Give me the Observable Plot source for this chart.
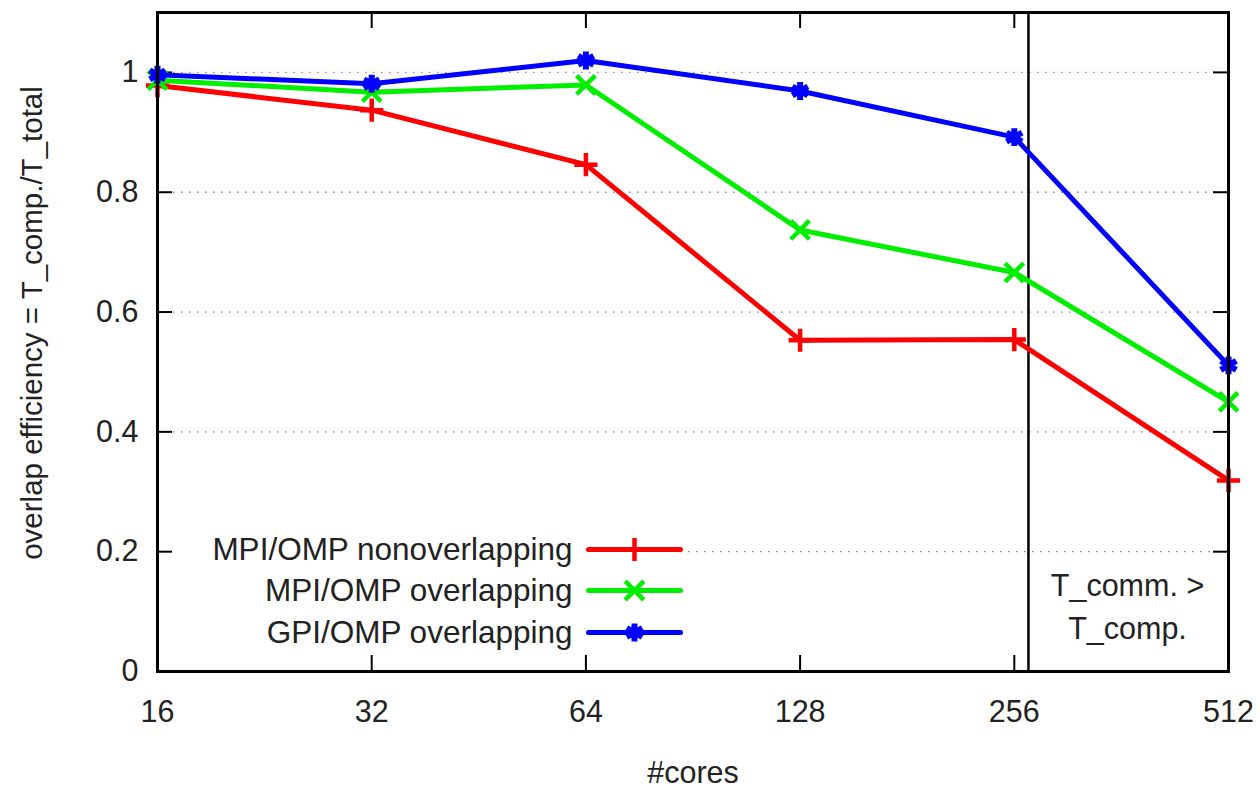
<!DOCTYPE html>
<html>
<head>
<meta charset="utf-8">
<script src="https://cdn.jsdelivr.net/npm/d3@7"></script>
<script src="https://cdn.jsdelivr.net/npm/@observablehq/plot@0.6"></script>
<style>
  html, body { margin: 0; padding: 0; background: #fff; }
</style>
</head>
<body>
<div id="chart"></div>
<script>
// ---- data ----
const cores = [16, 32, 64, 128, 256, 512];
const seriesNames = ["MPI/OMP nonoverlapping", "MPI/OMP overlapping", "GPI/OMP overlapping"];
const mpiNonOverlapping = [0.978, 0.937, 0.846, 0.553, 0.554, 0.319];
const mpiOverlapping    = [0.987, 0.967, 0.979, 0.737, 0.666, 0.450];
const gpiOverlapping    = [0.996, 0.981, 1.020, 0.969, 0.892, 0.511];
const seriesColors = ["#ff0000", "#00ee00", "#0000ff"];
const seriesSymbols = ["plus", "times", "asterisk"];
const xTicks = [16, 32, 64, 128, 256, 512];
const yTicks = [0, 0.2, 0.4, 0.6, 0.8, 1];
const gridValues = [0.4, 0.6, 0.8, 1];
const legendGridValues = [0.2];
const thresholdCores = [268];
const annotation = ["T_comm. >\nT_comp."];
const xLabel = "#cores";
const yLabel = "overlap efficiency = T_comp./T_total";

const seriesValues = [mpiNonOverlapping, mpiOverlapping, gpiOverlapping];
const rows = [];
seriesNames.forEach((s, k) => cores.forEach((c, i) => rows.push({series: s, cores: c, eff: seriesValues[k][i]})));

const W = 1260, H = 788;
const mL = 157, mR = 32, mT = 12, mB = 117;
const fw = W - mL - mR, fh = H - mT - mB;
const font = "Liberation Sans, Arial, Helvetica, sans-serif";
const symR = [7.5, 8.5, 8.5];
const symW = [4.5, 4.5, 6];

const marks = [];
// grid
marks.push(Plot.ruleY(gridValues, {stroke: "#888", strokeWidth: 1.3, strokeDasharray: "1.5,6.5"}));
marks.push(Plot.ruleY(legendGridValues, {stroke: "#888", strokeWidth: 1.3, strokeDasharray: "1.5,6.5", insetLeft: 523}));
// inward ticks
marks.push(Plot.tickY(yTicks, {y: d => d, insetRight: fw - 15, stroke: "#000", strokeWidth: 2}));
marks.push(Plot.tickY(yTicks, {y: d => d, insetLeft: fw - 15, stroke: "#000", strokeWidth: 2}));
marks.push(Plot.tickX(xTicks, {x: d => d, insetTop: fh - 16, stroke: "#000", strokeWidth: 2}));
marks.push(Plot.tickX(xTicks, {x: d => d, insetBottom: fh - 16, stroke: "#000", strokeWidth: 2}));
// threshold line
marks.push(Plot.ruleX(thresholdCores, {stroke: "#000", strokeWidth: 2.5}));
// series
seriesNames.forEach((s, k) => {
  const d = rows.filter(r => r.series === s);
  marks.push(Plot.line(d, {x: "cores", y: "eff", stroke: seriesColors[k], strokeWidth: 5}));
  marks.push(Plot.dot(d, {x: "cores", y: "eff", symbol: () => seriesSymbols[k], stroke: seriesColors[k],
    strokeWidth: symW[k], r: symR[k]}));
});
// legend
const legendDy = [-122, -81, -39];
seriesNames.forEach((s, k) => {
  marks.push(Plot.text([s], {frameAnchor: "bottom-left", dx: 415, dy: legendDy[k], text: d => d,
    textAnchor: "end", lineAnchor: "middle", fontSize: 31.5, fill: "#222", fontFamily: font}));
  marks.push(Plot.vector([s], {frameAnchor: "bottom-left", dx: 431, dy: legendDy[k], length: 92, rotate: 90,
    anchor: "start", stroke: seriesColors[k], strokeWidth: 5,
    shape: {draw(ctx, l) { ctx.moveTo(0, 0); ctx.lineTo(0, -l); }}}));
  marks.push(Plot.dot([s], {frameAnchor: "bottom-left", dx: 477, dy: legendDy[k], symbol: () => seriesSymbols[k],
    stroke: seriesColors[k], strokeWidth: symW[k], r: symR[k]}));
});
// annotation
marks.push(Plot.text(annotation, {frameAnchor: "bottom-right", dx: -101, dy: -68, text: d => d,
  textAnchor: "middle", lineAnchor: "middle", lineHeight: 1.4, fontSize: 30.5, fill: "#222", fontFamily: font}));
// axes
marks.push(Plot.axisY({ticks: yTicks, tickSize: 0, tickPadding: 19, tickFormat: d => String(d), fontSize: 30.5, label: null, fill: "#222"}));
marks.push(Plot.axisX({ticks: xTicks, tickSize: 0, tickPadding: 29, tickFormat: d => String(d), fontSize: 30.5, label: null, fill: "#222"}));
// axis titles
marks.push(Plot.text([xLabel], {frameAnchor: "bottom", dy: 102, text: d => d, textAnchor: "middle", lineAnchor: "middle", fontSize: 30.5, fill: "#222", fontFamily: font}));
marks.push(Plot.text([yLabel], {frameAnchor: "left", dx: -125, dy: -19, rotate: -90, text: d => d, textAnchor: "middle", lineAnchor: "middle", fontSize: 29.5, fill: "#222", fontFamily: font}));
// frame
marks.push(Plot.frame({stroke: "#000", strokeWidth: 3}));

const chart = Plot.plot({
  width: W, height: H,
  marginLeft: mL, marginRight: mR, marginTop: mT, marginBottom: mB,
  style: {fontFamily: font, fontSize: "30px", background: "#fff", overflow: "visible"},
  x: {type: "log", base: 2, domain: [16, 512], axis: null},
  y: {domain: [0, 1.1], axis: null},
  marks
});
document.getElementById("chart").appendChild(chart);
</script>
</body>
</html>
